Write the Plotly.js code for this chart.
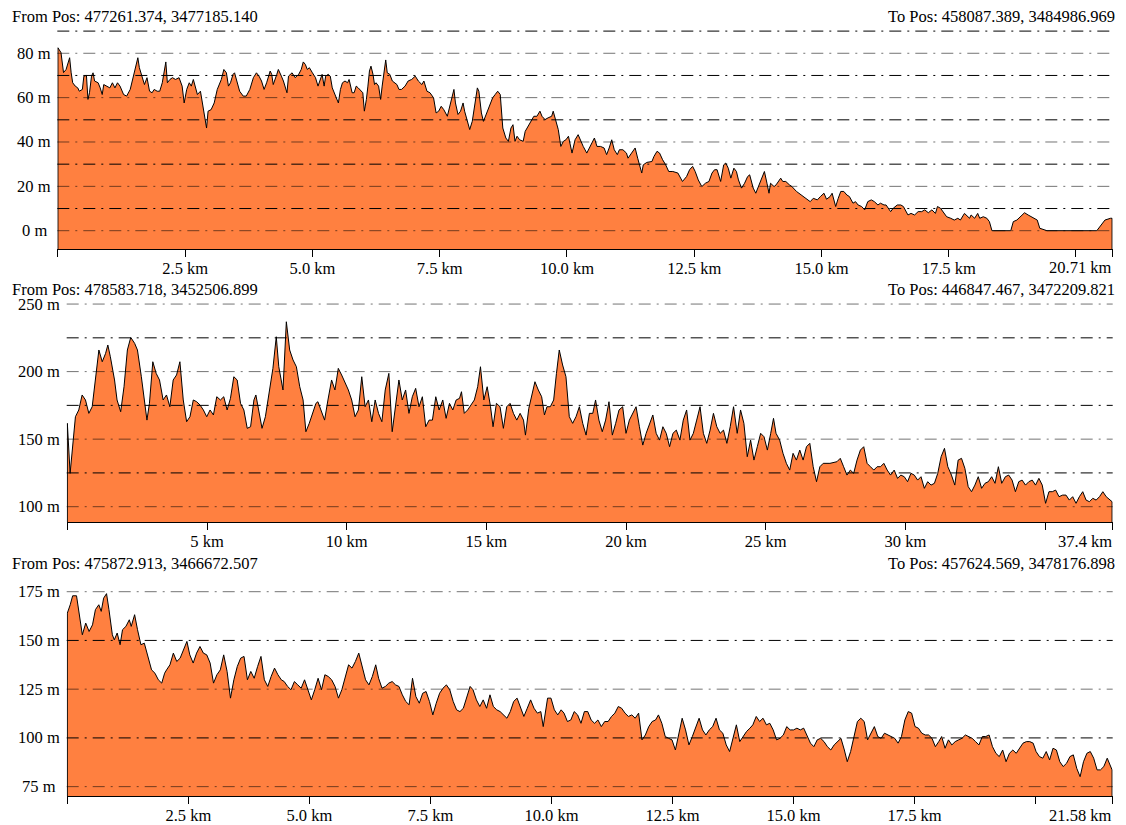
<!DOCTYPE html>
<html><head><meta charset="utf-8">
<script src="https://cdn.plot.ly/plotly-3.0.1.min.js"></script>
<style>html,body{margin:0;padding:0;background:#fff;} #chart{width:1126px;height:825px;}</style>
</head><body><div id="chart"></div>
<script>
// ---------- texts ----------
const fromPos = ['From Pos: 477261.374, 3477185.140', 'From Pos: 478583.718, 3452506.899', 'From Pos: 475872.913, 3466672.507'];
const toPos = ['To Pos: 458087.389, 3484986.969', 'To Pos: 446847.467, 3472209.821', 'To Pos: 457624.569, 3478176.898'];

// ---------- profile 1 (km, m) ----------
const dist1 = [
0.00,0.06,0.11,0.16,0.23,0.26,0.29,0.34,0.39,0.42,
0.48,0.51,0.56,0.59,0.62,0.66,0.69,0.72,0.79,0.83,
0.87,0.90,0.95,1.02,1.07,1.12,1.17,1.22,1.29,1.35,
1.42,1.48,1.53,1.57,1.60,1.65,1.70,1.75,1.80,1.85,
1.89,1.95,2.00,2.05,2.09,2.12,2.15,2.20,2.25,2.31,
2.38,2.44,2.48,2.53,2.58,2.62,2.66,2.71,2.74,2.80,
2.84,2.88,2.92,2.95,3.01,3.07,3.13,3.21,3.26,3.31,
3.35,3.39,3.44,3.47,3.52,3.57,3.64,3.70,3.77,3.84,
3.90,3.95,4.00,4.05,4.10,4.17,4.20,4.23,4.30,4.33,
4.39,4.43,4.50,4.53,4.60,4.66,4.73,4.78,4.82,4.86,
4.90,4.94,5.00,5.06,5.11,5.16,5.19,5.23,5.26,5.31,
5.35,5.39,5.46,5.51,5.55,5.59,5.64,5.69,5.72,5.78,
5.82,5.86,5.90,5.96,5.99,6.02,6.06,6.09,6.12,6.15,
6.19,6.22,6.25,6.30,6.34,6.37,6.41,6.44,6.47,6.52,
6.57,6.62,6.66,6.70,6.75,6.82,6.88,6.95,7.02,7.08,
7.15,7.19,7.25,7.31,7.38,7.43,7.48,7.53,7.58,7.65,
7.70,7.74,7.78,7.81,7.86,7.91,7.96,7.99,8.04,8.09,
8.14,8.19,8.24,8.27,8.32,8.36,8.41,8.47,8.54,8.59,
8.64,8.69,8.74,8.80,8.85,8.90,8.94,8.98,9.02,9.07,
9.14,9.18,9.24,9.30,9.35,9.41,9.47,9.51,9.57,9.63,
9.70,9.73,9.77,9.83,9.88,9.93,9.98,10.03,10.10,10.16,
10.22,
10.26,10.32,10.39,10.46,10.54,10.59,10.66,10.73,10.78,10.83,
10.88,10.93,10.99,11.03,11.10,11.17,11.20,11.27,11.34,11.39,
11.44,11.47,11.50,11.57,11.67,11.71,11.77,11.82,11.88,11.94,
12.00,12.08,12.18,12.27,12.35,12.41,12.47,12.52,12.58,12.65,
12.72,12.79,12.85,12.90,12.95,13.02,13.08,13.12,13.17,13.22,
13.28,13.33,13.37,13.43,13.49,13.55,13.59,13.66,13.71,13.76,
13.83,13.88,13.93,13.97,14.00,14.07,14.11,14.17,14.20,14.24,
14.30,14.37,14.42,14.51,14.61,14.71,14.78,14.84,14.92,14.98,
15.05,15.10,15.17,15.21,15.28,15.33,15.38,15.44,15.50,15.55,
15.62,15.67,15.72,15.79,15.85,15.91,15.98,16.04,16.11,16.16,
16.23,16.27,16.36,16.41,16.49,16.56,16.61,16.70,16.76,16.83,
16.90,16.97,17.03,17.10,17.17,17.24,17.28,17.34,17.41,17.46,
17.54,17.61,17.68,17.73,17.81,17.88,17.91,17.94,18.01,18.07,
18.11,18.18,18.25,18.30,18.35,18.72,18.77,18.84,18.92,18.99,
19.06,19.13,19.19,19.24,19.29,19.36,19.43,20.41,20.47,20.57,
20.68,20.71];
const elev1 = [
82.5,80.3,71.3,72.7,78.0,71.2,66.7,65.2,64.4,62.9,
63.7,69.7,70.0,59.2,62.2,69.7,71.2,67.5,66.7,64.4,
61.4,65.9,65.2,64.4,66.7,64.4,66.7,65.2,61.4,60.7,
63.7,69.7,74.2,78.0,73.5,69.7,65.9,69.0,62.9,62.2,
63.7,62.9,62.9,66.7,71.2,76.1,66.7,68.2,69.0,68.2,
69.0,65.2,57.6,63.7,66.7,65.2,68.2,63.7,61.4,62.9,
57.6,51.6,46.3,53.9,54.6,57.6,63.7,68.2,72.7,71.2,
65.2,66.7,70.5,71.2,66.7,62.9,60.7,60.7,63.7,69.0,
71.2,69.7,67.5,63.7,66.7,72.0,70.5,65.9,70.5,72.7,
69.7,67.5,62.2,69.7,71.2,69.0,70.5,72.7,76.1,75.0,
72.7,73.5,71.2,69.0,65.2,68.2,70.5,65.2,69.7,70.5,
69.7,64.4,60.7,57.6,63.7,66.7,67.5,66.7,68.2,62.2,
62.2,65.2,64.4,62.9,62.2,53.9,59.2,65.2,72.0,74.2,
70.5,65.9,66.7,65.2,59.2,65.2,71.2,77.0,71.2,70.5,
67.5,66.7,65.9,63.7,63.7,65.2,67.5,68.2,69.7,67.5,
65.9,67.5,62.9,62.2,59.9,53.1,53.9,56.1,54.6,51.6,
56.1,59.9,63.7,57.6,52.4,53.9,57.6,53.9,50.1,45.6,
49.3,57.6,64.4,62.9,53.1,49.3,52.4,55.4,59.9,61.4,
62.9,61.4,46.3,41.8,40.3,46.3,47.8,40.3,42.6,41.0,
40.3,44.8,47.1,49.3,51.6,51.6,53.9,51.6,50.1,50.9,
51.6,53.9,50.1,45.6,38.0,40.3,41.0,42.6,35.0,41.0,
43.3,
41.0,38.0,35.0,38.0,41.8,38.0,38.0,37.3,34.3,37.3,
41.0,36.5,34.3,36.5,36.5,35.0,32.7,35.0,37.3,32.7,
29.0,26.0,29.7,30.8,31.2,33.5,35.8,35.0,32.0,29.7,
26.7,26.7,26.0,22.2,24.4,27.5,29.0,26.7,22.9,19.9,
21.4,22.2,26.0,27.5,27.5,22.2,29.7,30.5,28.2,23.7,
28.2,26.7,22.9,19.2,21.4,24.4,25.2,19.2,16.9,19.9,
24.4,26.7,21.4,16.9,21.4,19.9,20.7,22.9,23.7,22.2,
22.2,20.7,19.9,17.7,16.1,14.6,13.1,14.6,13.9,15.4,
16.9,14.2,15.4,16.9,10.9,14.6,17.7,17.7,16.1,15.4,
12.4,13.1,11.6,10.9,9.4,13.1,13.9,13.1,11.6,12.4,
11.6,11.6,8.6,10.1,11.6,11.6,10.9,7.1,7.8,7.1,
8.6,8.6,9.4,8.1,9.4,7.8,10.9,10.1,7.8,6.3,
5.6,4.8,5.6,4.8,7.8,6.3,5.6,7.1,5.6,7.8,
5.6,6.3,5.6,4.1,0,0,4.1,4.8,6.6,8.1,
7.1,6.3,5.6,4.8,1.1,0.6,0,0,1.8,4.8,
5.6,5.6];

// ---------- profile 2 (km, m) ----------
const dist2 = [
0.00,0.10,0.19,0.29,0.41,0.53,0.65,0.77,0.89,1.01,
1.13,1.25,1.37,1.45,1.54,1.69,1.78,1.91,2.03,2.15,
2.27,2.41,2.51,2.65,2.75,2.85,2.94,3.06,3.18,3.30,
3.43,3.55,3.67,3.79,3.91,4.03,4.15,4.27,4.39,4.51,
4.63,4.75,4.87,4.99,5.11,5.23,5.35,5.48,5.60,5.72,
5.84,5.96,6.08,6.20,6.32,6.44,6.56,6.68,6.75,6.85,
6.97,7.09,7.24,7.36,7.48,7.57,7.72,7.84,7.96,8.08,
8.20,8.32,8.44,8.54,8.66,8.78,8.90,8.97,9.09,9.21,
9.33,9.46,9.58,9.70,9.82,9.94,10.06,10.18,10.30,10.42,
10.54,10.66,10.78,10.90,11.02,11.14,11.26,11.38,11.51,11.63,
11.75,11.87,11.99,12.11,12.23,12.35,12.47,12.59,12.71,12.83,
12.95,13.07,13.19,13.31,13.44,13.56,13.68,13.80,13.92,14.04,
14.11,14.21,14.33,14.45,14.57,14.69,14.79,14.91,15.03,15.15,
15.24,15.36,15.49,15.61,15.73,15.85,15.97,16.09,16.21,16.33,
16.40,16.52,16.62,16.74,16.86,16.98,17.08,17.17,17.29,17.41,
17.51,17.61,17.73,17.85,17.97,18.09,18.21,18.33,18.45,18.57,
18.69,18.81,18.91,19.03,19.15,19.27,19.39,19.51,19.63,19.75,
19.88,20.00,20.12,20.24,20.36,20.48,20.60,20.72,20.84,20.96,
21.08,21.20,21.32,21.44,21.56,21.68,21.80,21.93,22.05,22.17,
22.29,22.41,22.53,22.65,22.77,22.89,23.01,23.13,23.25,23.37,
23.49,23.61,23.73,23.85,23.98,24.10,24.22,24.34,24.46,24.58,
24.70,24.82,24.94,25.06,25.18,25.28,25.37,25.50,25.62,25.74,
25.86,25.98,26.10,26.22,26.34,26.46,26.58,26.70,26.82,26.94,
27.06,27.30,27.55,27.67,27.79,27.91,28.03,28.15,28.27,28.39,
28.51,28.63,28.75,28.87,28.99,29.11,29.23,29.35,29.47,29.60,
29.72,29.84,29.96,30.08,30.20,30.32,30.44,30.56,30.68,30.80,
30.92,31.04,31.16,31.28,31.40,31.52,31.65,31.77,31.89,32.01,
32.13,32.25,32.37,32.49,32.61,32.73,32.85,32.97,33.09,33.21,
33.33,33.45,33.58,33.70,33.82,33.94,34.06,34.18,34.30,34.42,
34.54,34.66,34.78,34.90,35.02,35.14,35.26,35.38,35.50,35.63,
35.75,35.87,35.99,36.11,36.23,36.35,36.47,36.59,36.71,36.83,
36.95,37.07,37.19,37.40];
const elev2 = [
161.7,124.7,144.4,166.6,171.6,182.7,179.0,169.1,174.0,193.8,
216.0,207.3,213.5,219.7,211.0,193.8,179.0,170.3,188.8,216.0,
225.3,220.9,216.0,196.2,179.0,164.1,176.5,207.3,198.7,193.8,
179.0,182.7,174.0,193.8,197.5,207.3,179.0,162.9,166.6,179.0,
177.7,175.3,171.6,166.6,171.6,167.9,181.4,179.0,181.4,171.6,
180.2,196.2,193.8,176.5,171.6,158.0,159.2,179.0,182.7,171.6,
158.0,166.6,186.4,202.4,225.8,203.6,186.4,236.9,216.0,208.6,
203.6,188.8,179.0,155.5,161.7,169.1,176.5,177.7,171.6,164.1,
179.0,193.8,186.4,202.4,197.5,192.5,186.4,179.0,166.6,171.6,
196.2,174.0,179.0,162.9,179.0,169.1,162.9,186.4,198.7,155.5,
174.0,193.8,179.0,186.4,169.1,181.4,187.6,174.0,181.4,159.2,
164.1,164.1,181.4,171.6,179.0,165.4,176.5,171.6,179.0,180.2,
185.1,169.1,171.6,175.3,179.0,188.8,203.6,179.0,188.8,174.0,
159.2,176.5,174.0,158.0,174.0,176.5,169.1,164.1,169.1,164.1,
153.0,172.8,182.7,192.5,186.4,181.4,167.9,174.0,174.0,179.0,
198.7,216.0,204.9,196.2,166.6,161.7,166.6,174.0,161.7,153.0,
169.1,169.1,179.0,164.1,155.5,164.1,177.7,153.0,161.7,171.6,
174.0,154.3,164.1,169.1,174.0,159.2,145.6,154.3,161.7,167.9,
154.3,149.3,159.2,154.3,144.4,154.3,156.7,149.3,164.1,171.6,
149.3,154.3,164.1,174.0,154.3,146.9,156.7,169.1,159.2,154.3,
156.7,146.9,159.2,174.0,154.3,171.6,161.7,137.0,149.3,134.5,
144.4,154.3,151.8,141.9,154.3,165.4,154.3,149.3,139.5,132.1,
127.1,139.5,134.5,141.9,134.5,144.4,146.9,129.6,118.5,129.6,
132.1,132.1,133.3,135.8,129.6,123.4,127.1,124.7,134.5,141.9,
144.4,132.1,129.6,127.1,129.6,129.6,132.1,127.1,123.4,127.1,
121.0,123.4,122.2,118.5,124.7,123.4,119.7,122.2,113.6,118.5,
116.0,117.3,124.7,137.0,143.2,129.6,123.4,116.0,134.5,135.8,
128.4,114.8,111.1,116.0,122.2,113.6,117.3,118.5,122.2,117.3,
129.6,117.3,122.2,123.4,119.7,111.1,118.5,119.7,116.0,118.5,
119.7,116.0,121.0,116.0,102.5,111.1,111.1,112.3,107.4,108.6,
108.6,104.9,107.4,102.5,107.4,111.1,104.9,103.7,106.2,104.9,
107.4,111.1,107.4,103.7];

// ---------- profile 3 (km, m) ----------
const dist3 = [
0.00,0.06,0.11,0.19,0.25,0.31,0.38,0.45,0.52,0.58,
0.65,0.70,0.75,0.81,0.86,0.93,0.97,1.03,1.09,1.14,
1.21,1.28,1.32,1.39,1.45,1.52,1.59,1.67,1.74,1.81,
1.88,1.95,2.01,2.05,2.12,2.19,2.26,2.33,2.40,2.47,
2.53,2.60,2.67,2.74,2.81,2.88,2.95,3.02,3.09,3.16,
3.23,3.30,3.37,3.44,3.51,3.58,3.65,3.72,3.79,3.86,
3.93,4.00,4.07,4.14,4.21,4.28,4.35,4.42,4.48,4.55,
4.62,4.69,4.76,4.83,4.90,4.97,5.04,5.11,5.18,5.25,
5.32,5.39,5.46,5.53,5.60,5.67,5.74,5.81,5.88,5.95,
6.02,6.09,6.16,6.23,6.30,6.37,6.43,6.50,6.57,6.64,
6.71,6.78,6.85,6.92,6.99,7.06,7.13,7.20,7.27,7.34,
7.41,7.48,7.55,7.62,7.69,7.76,7.83,7.90,7.97,8.04,
8.11,8.18,8.25,8.32,8.38,8.45,8.52,8.59,8.66,8.73,
8.80,8.87,8.94,9.01,9.08,9.15,9.22,9.29,9.36,9.43,
9.50,9.57,9.64,9.71,9.78,9.83,9.92,9.99,10.06,10.13,
10.20,10.26,10.33,10.40,10.47,10.54,10.61,10.68,10.75,10.82,
10.89,10.96,11.03,11.10,11.17,11.24,11.31,11.38,11.45,11.52,
11.59,11.66,11.73,11.80,11.87,11.94,12.01,12.08,12.15,12.21,
12.28,12.35,12.42,12.49,12.56,12.63,12.70,12.77,12.84,12.91,
12.98,13.05,13.12,13.19,13.26,13.33,13.40,13.47,13.54,13.61,
13.68,13.75,13.82,13.89,13.96,14.03,14.10,14.16,14.23,14.30,
14.37,14.44,14.51,14.58,14.65,14.72,14.79,14.86,14.93,15.00,
15.07,15.14,15.21,15.28,15.35,15.42,15.49,15.56,15.63,15.70,
15.77,15.84,15.91,15.98,16.05,16.11,16.18,16.25,16.32,16.39,
16.46,16.53,16.60,16.67,16.74,16.81,16.88,16.95,17.02,17.09,
17.16,17.23,17.30,17.37,17.44,17.51,17.58,17.65,17.72,17.79,
17.86,17.93,18.00,18.06,18.13,18.20,18.27,18.34,18.41,18.48,
18.55,18.62,18.69,18.76,18.83,18.90,18.97,19.04,19.11,19.18,
19.25,19.32,19.39,19.46,19.53,19.60,19.67,19.74,19.81,19.88,
19.95,20.01,20.08,20.15,20.22,20.29,20.36,20.43,20.50,20.57,
20.64,20.71,20.78,20.85,20.92,20.99,21.06,21.13,21.20,21.27,
21.34,21.41,21.48,21.58];
const elev3 = [
164.0,168.3,172.9,172.9,164.0,152.9,158.9,154.6,158.0,165.8,
168.3,164.9,171.7,174.0,165.8,152.9,150.3,153.8,147.8,155.5,
157.2,160.6,157.2,163.2,155.5,147.8,148.6,140.9,134.9,133.2,
129.8,128.1,133.2,134.9,137.5,143.5,139.2,140.9,145.2,149.5,
142.6,138.4,143.5,146.9,143.5,142.6,138.4,128.1,132.4,134.9,
142.6,134.1,120.4,129.8,136.6,140.9,141.8,129.8,134.1,130.6,
136.6,141.8,129.8,126.4,131.5,135.8,132.4,129.8,128.9,126.4,
124.7,128.9,127.2,125.5,129.8,124.7,119.5,124.7,130.6,124.7,
132.4,131.5,129.8,126.4,120.4,124.7,130.6,137.5,135.8,139.2,
143.5,136.6,129.8,127.2,131.5,137.5,130.6,125.5,126.4,128.1,
128.9,127.2,126.4,122.1,118.7,117.0,130.6,121.2,117.8,122.9,
123.8,118.7,111.8,117.8,122.9,125.5,127.2,124.7,118.7,114.4,
113.5,115.2,120.4,126.4,124.7,119.5,116.1,119.5,115.2,122.1,
116.1,114.4,113.5,111.8,110.1,113.5,118.7,120.4,116.1,111.0,
115.2,119.5,115.2,112.7,113.5,105.8,120.4,120.4,114.4,111.8,
114.4,112.7,108.4,109.2,113.5,111.8,107.5,113.5,113.5,109.2,
107.5,109.2,105.8,108.4,108.4,111.0,112.7,116.1,115.2,112.7,
111.0,111.8,110.1,112.7,99.0,101.5,105.8,108.4,109.2,111.8,
107.5,100.7,99.8,99.0,93.8,101.5,110.1,104.1,96.4,100.7,
105.8,110.1,104.1,101.5,104.1,105.8,110.1,104.1,102.4,96.4,
93.0,100.7,106.7,98.1,100.7,103.3,105.0,106.7,111.0,108.4,
110.1,106.7,107.5,104.1,99.0,99.8,101.5,105.8,104.1,104.1,
105.0,104.1,105.0,100.7,97.3,95.5,99.0,99.8,98.1,95.5,
93.8,96.4,98.1,99.8,93.8,87.8,93.0,100.7,108.4,110.1,
108.4,99.0,102.4,105.8,100.7,99.8,102.4,101.5,100.7,99.8,
97.3,100.7,109.2,113.5,112.7,105.8,105.0,102.4,101.5,101.5,
99.8,95.5,98.1,100.7,94.7,99.0,96.4,98.1,99.0,99.8,
101.5,100.7,99.8,98.1,96.4,100.7,100.7,101.5,95.5,92.1,
90.4,93.8,87.8,92.1,93.8,92.1,94.7,97.3,98.1,98.1,
97.3,93.0,90.4,89.6,93.0,88.7,94.7,93.8,87.8,85.3,
87.0,90.4,91.3,84.4,80.1,87.8,92.1,93.0,89.6,83.6,
83.6,85.3,89.6,83.6];

// ---------- ticks ----------
const xTickVals1 = [0, 2.5, 5, 7.5, 10, 12.5, 15, 17.5, 20, 20.71];
const xTickText1 = ['', '2.5 km', '5.0 km', '7.5 km', '10.0 km', '12.5 km', '15.0 km', '17.5 km', '', ''];
const endLabel1 = '20.71 km';
const xTickVals2 = [0, 5, 10, 15, 20, 25, 30, 35, 37.4];
const xTickText2 = ['', '5 km', '10 km', '15 km', '20 km', '25 km', '30 km', '', ''];
const endLabel2 = '37.4 km';
const xTickVals3 = [0, 2.5, 5, 7.5, 10, 12.5, 15, 17.5, 20, 21.58];
const xTickText3 = ['', '2.5 km', '5.0 km', '7.5 km', '10.0 km', '12.5 km', '15.0 km', '17.5 km', '', ''];
const endLabel3 = '21.58 km';

const yTickVals1 = [0, 20, 40, 60, 80];
const yTickText1 = ['0 m', '20 m', '40 m', '60 m', '80 m'];
const yTickVals2 = [100, 150, 200, 250];
const yTickText2 = ['100 m', '150 m', '200 m', '250 m'];
const yTickVals3 = [75, 100, 125, 150, 175];
const yTickText3 = ['75 m', '100 m', '125 m', '150 m', '175 m'];

const gridFaint1 = [0, 20, 40, 60, 80];
const gridDark1 = [10, 30, 50, 70, 90];
const gridFaint2 = [100, 150, 200, 250];
const gridDark2 = [125, 175, 225];
const gridFaint3 = [75, 125, 175];
const gridDark3 = [100, 150];

// ---------- styling / layout ----------
const W = 1126, H = 825;
const FILL = 'rgb(255,128,64)';
const FONT = 'Liberation Serif, Times New Roman, serif';
const FS = 16.5;

const panels = [
  {dist: dist1, elev: elev1, xv: xTickVals1, xt: xTickText1, end: endLabel1, yv: yTickVals1, yt: yTickText1,
   gf: gridFaint1, gd: gridDark1, xPx: [57.3, 1112.7], yPx: [28, 249], yRange: [-8.25, 91.4], labelX: 34, titleY: 16, endY: 267},
  {dist: dist2, elev: elev2, xv: xTickVals2, xt: xTickText2, end: endLabel2, yv: yTickVals2, yt: yTickText2,
   gf: gridFaint2, gd: gridDark2, xPx: [66.7, 1112.7], yPx: [300, 522.3], yRange: [88.45, 253.0], labelX: 38.7, titleY: 289, endY: 541},
  {dist: dist3, elev: elev3, xv: xTickVals3, xt: xTickText3, end: endLabel3, yv: yTickVals3, yt: yTickText3,
   gf: gridFaint3, gd: gridDark3, xPx: [66.7, 1112.7], yPx: [580, 796], yRange: [70.2, 181.0], labelX: 38.7, titleY: 563, endY: 815}
];

const data = [];
const layout = {
  width: W, height: H, margin: {l: 0, r: 0, t: 0, b: 0},
  paper_bgcolor: 'white', plot_bgcolor: 'white', showlegend: false,
  font: {family: FONT, size: FS, color: 'black'},
  shapes: [], annotations: []
};

panels.forEach((p, i) => {
  const s = i === 0 ? '' : String(i + 1);
  const total = p.dist[p.dist.length - 1];
  const pad = total * 0.0006;
  const base = p.yRange[0];
  data.push({
    type: 'scatter', mode: 'lines',
    x: [p.dist[0]].concat(p.dist, [total]),
    y: [base].concat(p.elev, [base]),
    fill: 'toself', fillcolor: FILL,
    line: {color: 'black', width: 1},
    hoverinfo: 'skip',
    xaxis: 'x' + s, yaxis: 'y' + s
  });
  layout['xaxis' + s] = {
    domain: [p.xPx[0] / W, p.xPx[1] / W], range: [-pad, total + pad],
    anchor: 'y' + s, tickmode: 'array', tickvals: p.xv, ticktext: p.xt,
    ticks: 'outside', ticklen: 7, tickwidth: 1, tickcolor: 'black',
    showline: true, linecolor: 'black', linewidth: 1,
    showgrid: false, zeroline: false, fixedrange: true,
    tickfont: {family: FONT, size: FS, color: 'black'}
  };
  layout['yaxis' + s] = {
    domain: [1 - p.yPx[1] / H, 1 - p.yPx[0] / H], range: p.yRange,
    anchor: 'x' + s, showticklabels: false, ticks: '', showgrid: false,
    zeroline: false, showline: false, fixedrange: true
  };
  const dash = '12px,6px,2px,6px';
  p.gf.forEach(v => layout.shapes.push({type: 'line', xref: 'x' + s + ' domain', x0: 0, x1: 1, yref: 'y' + s, y0: v, y1: v,
    layer: 'above', line: {color: 'rgba(0,0,0,0.55)', width: 1, dash: dash}}));
  p.gd.forEach(v => layout.shapes.push({type: 'line', xref: 'x' + s + ' domain', x0: 0, x1: 1, yref: 'y' + s, y0: v, y1: v,
    layer: 'above', line: {color: 'black', width: 1, dash: dash}}));
  p.yv.forEach((v, k) => layout.annotations.push({xref: 'paper', x: p.labelX / W, xanchor: 'center',
    yref: 'y' + s, y: v, yanchor: 'middle', text: p.yt[k], showarrow: false, font: {family: FONT, size: FS, color: 'black'}}));
  layout.annotations.push({xref: 'x' + s, x: total, xanchor: 'right', xshift: 2, yref: 'paper', y: 1 - p.endY / H, yanchor: 'middle',
    text: p.end, showarrow: false, font: {family: FONT, size: FS, color: 'black'}});
  layout.annotations.push({xref: 'paper', x: 9.7 / W, xanchor: 'left', yref: 'paper', y: 1 - p.titleY / H, yanchor: 'middle',
    text: fromPos[i], showarrow: false, font: {family: FONT, size: FS, color: 'black'}});
  layout.annotations.push({xref: 'paper', x: 1117 / W, xanchor: 'right', yref: 'paper', y: 1 - p.titleY / H, yanchor: 'middle',
    text: toPos[i], showarrow: false, font: {family: FONT, size: FS, color: 'black'}});
});

Plotly.newPlot('chart', data, layout, {staticPlot: true, displayModeBar: false}).then(() => {
  // nudge x tick labels up a little to match the reference spacing
  document.querySelectorAll('.xtick text, .x2tick text, .x3tick text').forEach(t => {
    t.setAttribute('transform', (t.getAttribute('transform') || '') + ' translate(0,-3)');
  });
});
</script>
</body></html>
